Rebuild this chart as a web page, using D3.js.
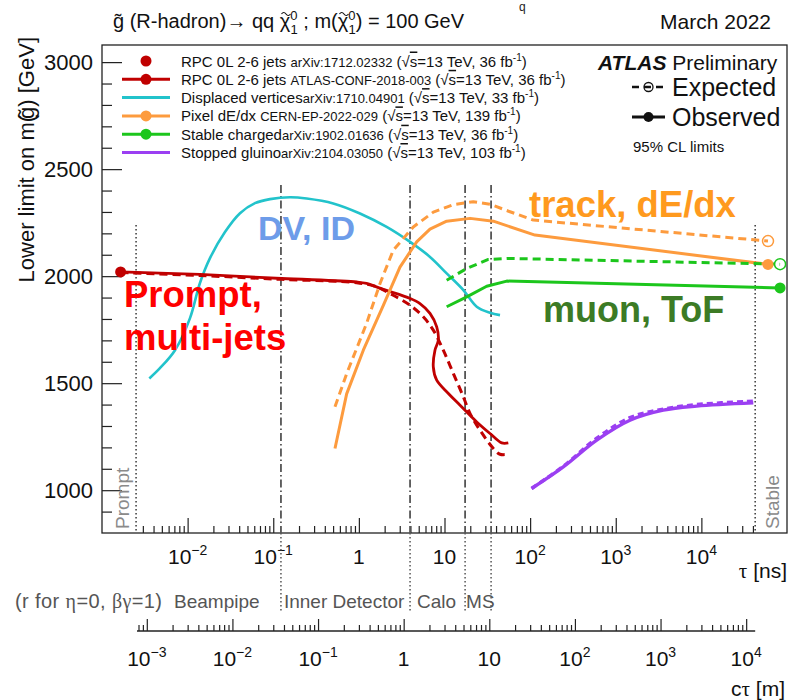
<!DOCTYPE html>
<html>
<head>
<meta charset="utf-8">
<script src="https://cdn.jsdelivr.net/npm/d3@7"></script>
<style>
  html, body { margin: 0; padding: 0; background: #fff; }
  svg { display: block; font-family: "Liberation Sans", Arial, Helvetica, sans-serif; }
  text { white-space: pre; }
</style>
</head>
<body>
<svg id="chart" width="792" height="700"></svg>
<script>
// ---------------- data: lifetime tau [ns] vs. lower mass limit [GeV] ----------------
const rpcPrompt = [[0.00165, 2020]];
const rpcObserved = [[0.00165, 2020], [0.0139, 2008], [0.1256, 1989], [0.944, 1973], [1.23, 1966],
  [1.93, 1938], [3.96, 1896], [5.17, 1872], [6.77, 1826], [8.11, 1763], [8.47, 1701], [7.74, 1654],
  [7.40, 1576], [8.11, 1514], [11.1, 1452], [15.2, 1397], [23.8, 1319], [34.0, 1265], [46.6, 1221], [55.6, 1221]];
const rpcExpected = [[0.00165, 2017], [0.0139, 2003], [0.1256, 1985], [0.944, 1969], [1.62, 1950],
  [2.31, 1919], [3.96, 1864], [5.65, 1810], [7.40, 1748], [9.68, 1654], [12.7, 1545], [16.6, 1436],
  [19.9, 1358], [26.0, 1280], [37.2, 1195], [44.5, 1168], [55.6, 1168]];
const dvObserved = [[0.00357, 1522], [0.00475, 1570], [0.00712, 1654], [0.01066, 1804], [0.0139, 1967],
  [0.01824, 2084], [0.0273, 2206], [0.0409, 2294], [0.0612, 2341], [0.0916, 2360], [0.157, 2369],
  [0.246, 2363], [0.502, 2340], [1.03, 2293], [2.11, 2230], [3.96, 2160], [6.77, 2090], [10.6, 2013],
  [16.6, 1935], [23.8, 1857], [34.0, 1829], [44.5, 1818]];
const pixelObserved = [[0.526, 1195], [0.72, 1450], [1.127, 1654], [1.93, 1864], [3.02, 2042], [4.73, 2160],
  [6.77, 2220], [10.6, 2257], [19.9, 2270], [37.2, 2257], [114, 2192], [60000, 2055]];
const pixelExpected = [[0.526, 1390], [0.721, 1545], [1.23, 1779], [1.766, 1966], [2.52, 2121], [4.32, 2230],
  [7.40, 2299], [12.7, 2334], [21.7, 2348], [34.0, 2336], [58.2, 2301], [109, 2262], [60000, 2164]];
const stableObserved = [[10.6, 1857], [18.2, 1903], [31.1, 1953], [53.3, 1977], [83000, 1945]];
const stableExpected = [[10.6, 1981], [18.2, 2036], [32.5, 2078], [53.3, 2083], [83000, 2056]];
const stoppedObserved = [[104, 1008], [244, 1109], [600, 1234], [1466, 1327], [3590, 1374], [8810, 1393], [40400, 1408]];
const stoppedExpected = [[104, 1008], [244, 1112], [600, 1243], [1466, 1339], [3590, 1379], [8810, 1400], [40400, 1416]];

// region boundaries (tau in ns)
const promptTau = 0.0025;
const stableTau = 42500;
const detectorBoundaryTau = [0.123, 3.96, 17.4, 35.0];
const detectorRegionNames = ["Beampipe", "Inner Detector", "Calo", "MS"];

// axis ticks and labels
const massMajorTicks = [1000, 1500, 2000, 2500, 3000];
const tauMajorTicks = [1e-2, 1e-1, 1, 10, 1e2, 1e3, 1e4];
const tauTickLabels = [["10", "\u22122"], ["10", "\u22121"], ["1", ""], ["10", ""], ["10", "2"], ["10", "3"], ["10", "4"]];
const ctauMajorTicks = [1e-3, 1e-2, 1e-1, 1, 10, 1e2, 1e3, 1e4];
const ctauTickLabels = [["10", "\u22123"], ["10", "\u22122"], ["10", "\u22121"], ["1", ""], ["10", ""], ["10", "2"], ["10", "3"], ["10", "4"]];

// legend
const legendNames = ["RPC 0L 2-6 jets ", "RPC 0L 2-6 jets ", "Displaced vertices", "Pixel dE/dx ", "Stable charged", "Stopped gluino"];
const legendRefs = ["arXiv:1712.02332", "ATLAS-CONF-2018-003", "arXiv:1710.04901", "CERN-EP-2022-029", "arXiv:1902.01636", "arXiv:2104.03050"];
const legendLumis = ["36", "36", "33", "139", "36", "103"];

// ---------------- drawing ----------------
const C_M_PER_NS = 0.299792458;
const svg = d3.select("#chart");
const frame = { left: 102, top: 45, right: 787, bottom: 533 };

const x = d3.scaleLog().domain([1e-3, 1e5]).range([frame.left, frame.right]);
const y = d3.scaleLinear().domain([800, 3080]).range([frame.bottom, frame.top]);
const xc = d3.scaleLog().domain([1e-3 * C_M_PER_NS, 1e5 * C_M_PER_NS]).range([frame.left, frame.right]);

const colors = {
  red: "#c00000", cyan: "#22c3cb", orange: "#fd9b3e", green: "#1cc61c", purple: "#9b3ff2"
};
const SERIF = "Liberation Serif, DejaVu Serif, serif";

function richText(parent, px, py, segs, attrs) {
  const t = parent.append("text").attr("x", px).attr("y", py);
  Object.entries(attrs || {}).forEach(([k, v]) => t.attr(k, v));
  segs.forEach(s => {
    const ts = t.append("tspan").text(s.t);
    if (s.size) ts.attr("font-size", s.size);
    if (s.dy) ts.attr("dy", s.dy);
    if (s.dx) ts.attr("dx", s.dx);
    if (s.family) ts.attr("font-family", s.family);
    if (s.style) ts.attr("font-style", s.style);
    if (s.weight) ts.attr("font-weight", s.weight);
    if (s.deco) ts.style("text-decoration", s.deco);
  });
  return t;
}

// small glyph at the very top edge
svg.append("text").attr("x", 519).attr("y", 11).attr("font-size", 12).attr("fill", "#222").text("q");

// title line; the tildes over chi are drawn as small strokes
const title = richText(svg, 113, 28, [
  { t: "g\u0303" }, { t: " (R-hadron)" }, { t: "\u2192" }, { t: " qq " },
  { t: "\u03C7" }, { t: "0", size: 13, dy: -8 }, { t: "1", size: 13, dx: -7, dy: 14 },
  { t: " ; m(", dy: -6 }, { t: "\u03C7" }, { t: "0", size: 13, dy: -8 }, { t: "1", size: 13, dx: -7, dy: 14 },
  { t: ") = 100 GeV", dy: -6 }
], { "font-size": 20, fill: "#111" });
{
  const node = title.node();
  const full = node.textContent;
  for (let i = 0; i < full.length; i++) {
    if (full[i] !== "\u03C7") continue;
    const r = node.getExtentOfChar(i);
    const cx = r.x + r.width / 2 + 1, cy = r.y + 3;
    svg.append("path")
      .attr("d", `M${cx - 4.5},${cy + 1} q2.25,-3 4.5,0 t4.5,0`)
      .attr("fill", "none").attr("stroke", "#111").attr("stroke-width", 1.2);
  }
}
svg.append("text").attr("x", 771).attr("y", 29).attr("text-anchor", "end")
  .attr("font-size", 21).attr("fill", "#111").text("March 2022");

// frame
svg.append("rect").attr("x", frame.left).attr("y", frame.top)
  .attr("width", frame.right - frame.left).attr("height", frame.bottom - frame.top)
  .attr("fill", "none").attr("stroke", "#222").attr("stroke-width", 1.3);

// y axis
const massMinorTicks = d3.range(900, 3001, 100).filter(v => !massMajorTicks.includes(v));
const yMajor = svg.append("g").attr("transform", `translate(${frame.left},0)`)
  .call(d3.axisLeft(y).tickValues(massMajorTicks).tickSize(-20).tickPadding(9).tickFormat(d3.format("d")));
const yMinor = svg.append("g").attr("transform", `translate(${frame.left},0)`)
  .call(d3.axisLeft(y).tickValues(massMinorTicks).tickSize(-10).tickFormat(""));
[yMajor, yMinor].forEach(g => {
  g.select(".domain").remove();
  g.selectAll("line").attr("stroke", "#222").attr("stroke-width", 1.2);
  g.selectAll("text").attr("font-size", 22).attr("fill", "#111").attr("font-family", "Liberation Sans, Arial, sans-serif");
});

// y title
richText(svg, 0, 0, [
  { t: "Lower limit on m(" }, { t: "g\u0303", dx: -4 }, { t: ") [GeV]" }
], { "font-size": 22, fill: "#111", "text-anchor": "end", transform: "translate(34,37) rotate(-90)" });

// log tick helper
function logTicks(lo, hi) {
  const out = [];
  for (let e = -5; e <= 6; e++) for (let m = 2; m <= 9; m++) {
    const v = m * Math.pow(10, e);
    if (v >= lo && v <= hi) out.push(v);
  }
  return out;
}

// tau axis (bottom, ticks inside between Prompt and Stable)
const tauMinor = logTicks(promptTau, stableTau);
const xMajorG = svg.append("g").attr("transform", `translate(0,${frame.bottom})`)
  .call(d3.axisBottom(x).tickValues(tauMajorTicks).tickSize(-15).tickFormat(""));
const xMinorG = svg.append("g").attr("transform", `translate(0,${frame.bottom})`)
  .call(d3.axisBottom(x).tickValues(tauMinor).tickSize(-7).tickFormat(""));
[xMajorG, xMinorG].forEach(g => {
  g.select(".domain").remove();
  g.selectAll("line").attr("stroke", "#222").attr("stroke-width", 1.2);
});
tauMajorTicks.forEach((v, i) => {
  const [base, ex] = tauTickLabels[i];
  const segs = [{ t: base }];
  if (ex) segs.push({ t: ex, size: 14, dy: -9 });
  richText(svg, x(v), 564, segs, { "font-size": 21, fill: "#111", "text-anchor": "middle" });
});
richText(svg, 787, 578, [
  { t: "\u03C4", family: SERIF }, { t: " [ns]" }
], { "font-size": 21, fill: "#111", "text-anchor": "end" });

// region lines
const linesG = svg.append("g");
[promptTau, stableTau].forEach(t => {
  linesG.append("line").attr("x1", x(t)).attr("x2", x(t)).attr("y1", 225).attr("y2", frame.bottom)
    .attr("stroke", "#444").attr("stroke-width", 1.6).attr("stroke-dasharray", "1.5,2.5");
});
detectorBoundaryTau.forEach(t => {
  linesG.append("line").attr("x1", x(t)).attr("x2", x(t)).attr("y1", 185).attr("y2", frame.bottom)
    .attr("stroke", "#555").attr("stroke-width", 1.8).attr("stroke-dasharray", "8,3,1.5,3");
  linesG.append("line").attr("x1", x(t)).attr("x2", x(t)).attr("y1", frame.bottom).attr("y2", 612)
    .attr("stroke", "#555").attr("stroke-width", 1.5).attr("stroke-dasharray", "1.5,2.5");
});
svg.append("text").attr("transform", `translate(${x(promptTau) - 7},529) rotate(-90)`)
  .attr("font-size", 19).attr("fill", "#8a8a8a").text("Prompt");
svg.append("text").attr("transform", `translate(${x(stableTau) + 24},529) rotate(-90)`)
  .attr("font-size", 19).attr("fill", "#8a8a8a").text("Stable");

// curves
const straight = d3.line().x(d => x(d[0])).y(d => y(d[1]));
const smooth = d3.line().x(d => x(d[0])).y(d => y(d[1])).curve(d3.curveCatmullRom.alpha(0.5));
const curveG = svg.append("g").attr("fill", "none").attr("stroke-linejoin", "round");
function drawCurve(data, gen, color, width, dash) {
  const p = curveG.append("path").attr("d", gen(data)).attr("stroke", color).attr("stroke-width", width);
  if (dash) p.attr("stroke-dasharray", dash);
}
drawCurve(dvObserved, smooth, colors.cyan, 2.6);
drawCurve(rpcExpected, smooth, colors.red, 3, "8,5");
drawCurve(rpcObserved, smooth, colors.red, 2.8);
drawCurve(pixelExpected, straight, colors.orange, 3, "8,5");
drawCurve(pixelObserved, straight, colors.orange, 3);
drawCurve(stableExpected, straight, colors.green, 3, "8,5");
drawCurve(stableObserved, straight, colors.green, 3);
drawCurve(stoppedExpected, smooth, colors.purple, 3.4, "6,4");
drawCurve(stoppedObserved, smooth, colors.purple, 3.4);

// end-point markers
const markG = svg.append("g");
function dot(p, color) {
  markG.append("circle").attr("cx", x(p[0])).attr("cy", y(p[1])).attr("r", 5.5).attr("fill", color);
}
function ring(p, color) {
  markG.append("circle").attr("cx", x(p[0])).attr("cy", y(p[1])).attr("r", 5.5)
    .attr("fill", "none").attr("stroke", color).attr("stroke-width", 1.5);
}
dot(rpcPrompt[0], colors.red);
ring(pixelExpected[pixelExpected.length - 1], colors.orange);
dot(pixelObserved[pixelObserved.length - 1], colors.orange);
ring(stableExpected[stableExpected.length - 1], colors.green);
dot(stableObserved[stableObserved.length - 1], colors.green);

// analysis labels
svg.append("text").attr("x", 258).attr("y", 240).attr("font-size", 34).attr("font-weight", "bold")
  .attr("fill", "#6d9ce9").text("DV, ID");
svg.append("text").attr("x", 529).attr("y", 217).attr("font-size", 36.5).attr("font-weight", "bold")
  .attr("fill", "#ff9a1e").text("track, dE/dx");
svg.append("text").attr("x", 124).attr("y", 307).attr("font-size", 36.5).attr("font-weight", "bold")
  .attr("fill", "#ff0000").text("Prompt,");
svg.append("text").attr("x", 124).attr("y", 350).attr("font-size", 36.5).attr("font-weight", "bold")
  .attr("fill", "#ff0000").text("multi-jets");
svg.append("text").attr("x", 543).attr("y", 322).attr("font-size", 36).attr("font-weight", "bold")
  .attr("fill", "#3c7b25").text("muon, ToF");

// legend (analyses)
const legendColors = [colors.red, colors.red, colors.cyan, colors.orange, colors.green, colors.purple];
const legendHasLine = [false, true, true, true, true, true];
const legendHasDot = [true, true, false, true, true, false];
const legG = svg.append("g");
legendNames.forEach((name, i) => {
  const cy = 61 + i * 18.3;
  if (legendHasLine[i]) legG.append("line").attr("x1", 122).attr("x2", 170).attr("y1", cy).attr("y2", cy)
    .attr("stroke", legendColors[i]).attr("stroke-width", 3);
  if (legendHasDot[i]) legG.append("circle").attr("cx", 146).attr("cy", cy).attr("r", 5.5).attr("fill", legendColors[i]);
  richText(legG, 181, cy + 5.5, [
    { t: name }, { t: legendRefs[i], size: 13 }, { t: " (\u221A" }, { t: "s", deco: "overline" },
    { t: `=13 TeV, ${legendLumis[i]} fb` }, { t: "-1", size: 10, dy: -6 }, { t: ")", dy: 6 }
  ], { "font-size": 15, fill: "#111" });
});

// legend (experiment, expected / observed)
richText(svg, 598, 70, [
  { t: "ATLAS", weight: "bold", style: "italic" }, { t: " Preliminary" }
], { "font-size": 21, fill: "#111" });
svg.append("line").attr("x1", 632).attr("x2", 665).attr("y1", 87).attr("y2", 87)
  .attr("stroke", "#111").attr("stroke-width", 2.5).attr("stroke-dasharray", "7,5");
svg.append("circle").attr("cx", 648.5).attr("cy", 87).attr("r", 4.5).attr("fill", "none")
  .attr("stroke", "#111").attr("stroke-width", 1.3);
svg.append("text").attr("x", 672).attr("y", 96).attr("font-size", 25).attr("fill", "#111").text("Expected");
svg.append("line").attr("x1", 632).attr("x2", 665).attr("y1", 117).attr("y2", 117)
  .attr("stroke", "#111").attr("stroke-width", 3);
svg.append("circle").attr("cx", 648.5).attr("cy", 117).attr("r", 5).attr("fill", "#111");
svg.append("text").attr("x", 672).attr("y", 126).attr("font-size", 25).attr("fill", "#111").text("Observed");
svg.append("text").attr("x", 633).attr("y", 152).attr("font-size", 15).attr("fill", "#111").text("95% CL limits");

// detector region captions
richText(svg, 15, 608, [
  { t: "(r for " }, { t: "\u03B7", family: SERIF }, { t: "=0, " },
  { t: "\u03B2\u03B3", family: SERIF }, { t: "=1)" }
], { "font-size": 20, fill: "#555", textLength: 147, lengthAdjust: "spacing" });
const regionStartX = [174, x(detectorBoundaryTau[0]) + 3, x(detectorBoundaryTau[1]) + 7, x(detectorBoundaryTau[2]) + 1];
detectorRegionNames.forEach((n, i) => {
  svg.append("text").attr("x", regionStartX[i]).attr("y", 608).attr("font-size", 19).attr("fill", "#555").text(n);
});

// c*tau axis (second scale below)
const ctLo = xc.invert(137), ctHi = stableTau * C_M_PER_NS;
const ctMinor = logTicks(ctLo, ctHi);
svg.append("line").attr("x1", 137).attr("x2", x(stableTau)).attr("y1", 631).attr("y2", 631)
  .attr("stroke", "#222").attr("stroke-width", 1.3);
const cMajorG = svg.append("g").attr("transform", "translate(0,631)")
  .call(d3.axisTop(xc).tickValues(ctauMajorTicks).tickSize(12).tickFormat(""));
const cMinorG = svg.append("g").attr("transform", "translate(0,631)")
  .call(d3.axisTop(xc).tickValues(ctMinor).tickSize(6).tickFormat(""));
[cMajorG, cMinorG].forEach(g => {
  g.select(".domain").remove();
  g.selectAll("line").attr("stroke", "#222").attr("stroke-width", 1.2);
});
ctauMajorTicks.forEach((v, i) => {
  const [base, ex] = ctauTickLabels[i];
  const segs = [{ t: base }];
  if (ex) segs.push({ t: ex, size: 14, dy: -9 });
  richText(svg, xc(v), 666, segs, { "font-size": 21, fill: "#111", "text-anchor": "middle" });
});
richText(svg, 785, 696, [
  { t: "c" }, { t: "\u03C4", family: SERIF }, { t: " [m]" }
], { "font-size": 21, fill: "#111", "text-anchor": "end" });
</script>
</body>
</html>
